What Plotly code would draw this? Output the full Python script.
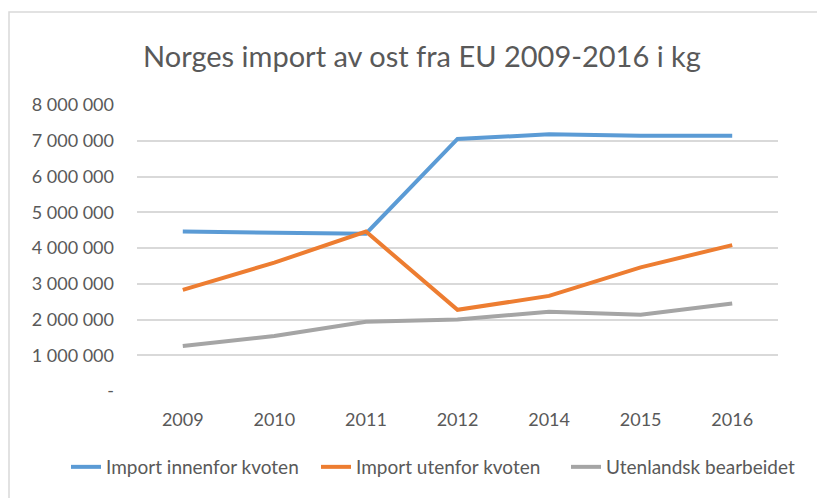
import plotly.graph_objects as go

years = ["2009", "2010", "2011", "2012", "2014", "2015", "2016"]
innenfor = [4460000, 4430000, 4400000, 7050000, 7180000, 7140000, 7140000]
utenfor = [2830000, 3590000, 4460000, 2270000, 2660000, 3460000, 4080000]
bearbeidet = [1260000, 1540000, 1940000, 2000000, 2220000, 2130000, 2450000]

series_names = ["Import innenfor kvoten", "Import utenfor kvoten", "Utenlandsk bearbeidet"]
colors = ["#5B9BD5", "#ED7D31", "#A5A5A5"]

tick_vals = [0, 1000000, 2000000, 3000000, 4000000, 5000000, 6000000, 7000000, 8000000]
tick_text = ["-", "1 000 000", "2 000 000", "3 000 000", "4 000 000",
             "5 000 000", "6 000 000", "7 000 000", "8 000 000"]

FONT = "Lato"

fig = go.Figure()
for name, vals, col in zip(series_names, [innenfor, utenfor, bearbeidet], colors):
    fig.add_trace(go.Scatter(x=years, y=vals, mode="lines", name=name,
                             line=dict(color=col, width=4)))

# page body has an 8px margin, so everything is shifted by 8px
OFF = 8
W, H = 825 - OFF, 498 - OFF
L, T = 137 - OFF, 105 - OFF
pw, ph = 641, 286
R, B = W - L - pw, H - T - ph

fig.update_layout(
    width=W, height=H,
    margin=dict(l=L, r=R, t=T, b=B),
    paper_bgcolor="white", plot_bgcolor="white",
    font=dict(family=FONT, color="#595959", size=18),
    title=dict(text="Norges import av ost fra EU 2009-2016 i kg",
               x=(422 - OFF) / W, xanchor="center", y=1 - (57 - OFF) / H, yanchor="middle",
               font=dict(family=FONT, size=29, color="#595959")),
    xaxis=dict(type="category", range=[-0.5, 6.5], showgrid=False, zeroline=False,
               showline=False, ticks="", tickfont=dict(size=18),
               ticklabelstandoff=16, automargin=False),
    yaxis=dict(range=[0, 8000000], tickvals=tick_vals, ticktext=tick_text,
               showgrid=True, gridcolor="#D9D9D9", gridwidth=1.5,
               zeroline=False, showline=False, ticks="",
               tickfont=dict(size=18), ticklabelstandoff=22, automargin=False),
    legend=dict(orientation="h", xref="paper", yref="paper",
                x=(66 - 137) / pw, xanchor="left",
                y=-(467 - 391) / ph, yanchor="middle",
                font=dict(size=19), itemwidth=30, tracegroupgap=0,
                entrywidth=205, entrywidthmode="pixels"),
    showlegend=True,
    shapes=[dict(type="rect", xref="paper", yref="paper",
                 x0=(9 - 137) / pw, x1=1.3, y0=-0.6, y1=(391 - 12) / ph,
                 line=dict(color="#D9D9D9", width=1.5), layer="below")],
)

fig.write_html("out.html")
